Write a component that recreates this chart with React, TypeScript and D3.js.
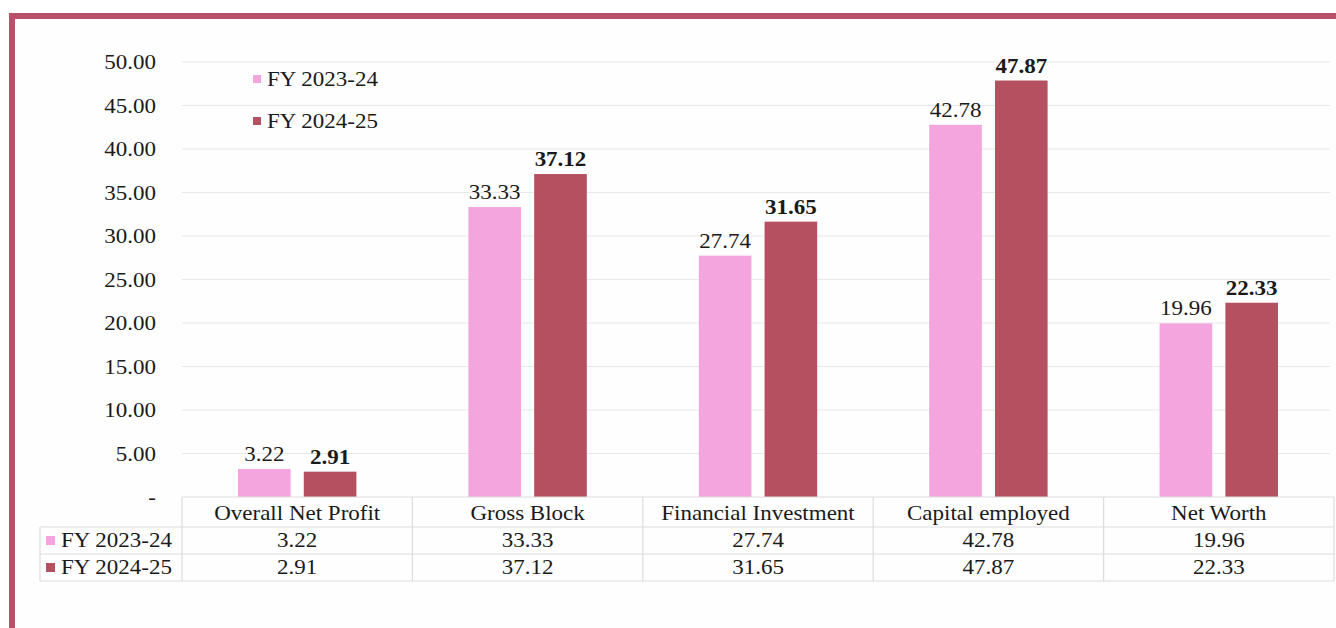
import React from 'react'
import * as d3 from 'd3'

// values (Rs. figures as printed)
const categories = [
  'Overall Net Profit',
  'Gross Block',
  'Financial Investment',
  'Capital employed',
  'Net Worth',
]
const seriesNames = ['FY 2023-24', 'FY 2024-25']
const fy2324 = [3.22, 33.33, 27.74, 42.78, 19.96]
const fy2425 = [2.91, 37.12, 31.65, 47.87, 22.33]
const yTicks = [0, 5, 10, 15, 20, 25, 30, 35, 40, 45, 50]

const colors = ['#F4A5DD', '#B4505F']
const fontFamily = '"Liberation Serif", "Times New Roman", serif'
const gridColor = '#e8e8e8'
const tableColor = '#dcdcdc'

// the reference text is slightly stretched horizontally
const SX = 1.15

const T = ({ x, y, anchor = 'middle', bold = false, size = 20, children }) => (
  <text
    transform={`translate(${x},${y}) scale(${SX},1)`}
    textAnchor={anchor}
    fontFamily={fontFamily}
    fontSize={size}
    fontWeight={bold ? 'bold' : 'normal'}
    fill="#1a1a1a"
  >
    {children}
  </text>
)

const App = () => {
  const width = 1336
  const height = 628
  const left = 182
  const right = 1334
  const y0 = 497
  const y50 = 62

  const series = [fy2324, fy2425]

  const x = d3.scaleBand().domain(categories).range([left, right]).padding(0)
  const inner = d3
    .scaleBand()
    .domain(seriesNames)
    .range([56, x.bandwidth() - 56])
    .paddingInner(0.2)
  const y = d3.scaleLinear().domain([0, 50]).range([y0, y50])
  const fmt = d3.format('.2f')

  const rowTop = [497, 527, 554, 581]

  return (
    <svg
      width={width}
      height={height}
      style={{ position: 'absolute', left: 0, top: 0, background: '#fff' }}
    >
      {/* frame */}
      <rect
        x={12}
        y={16}
        width={1400}
        height={700}
        fill="#fefefe"
        stroke="#B8506A"
        strokeWidth={6}
      />

      {/* gridlines + y labels */}
      {yTicks.map((t) => (
        <g key={t}>
          {t > 0 && (
            <line x1={left} x2={1330} y1={y(t)} y2={y(t)} stroke={gridColor} strokeWidth={1.2} />
          )}
          <T x={156} y={y(t) + 7} anchor="end">
            {t === 0 ? '-' : fmt(t)}
          </T>
        </g>
      ))}

      {/* bars */}
      {categories.map((c, i) => (
        <g key={c} transform={`translate(${x(c)},0)`}>
          {series.map((vals, s) => {
            const bx = inner(seriesNames[s])
            const top = y(vals[i])
            return (
              <g key={s}>
                <rect
                  x={bx}
                  y={top}
                  width={inner.bandwidth()}
                  height={y0 - top}
                  fill={colors[s]}
                />
                <T x={bx + inner.bandwidth() / 2} y={top - 8} bold={s === 1}>
                  {fmt(vals[i])}
                </T>
              </g>
            )
          })}
        </g>
      ))}

      {/* legend inside plot */}
      {seriesNames.map((n, s) => (
        <g key={n}>
          <rect x={253} y={75 + s * 42} width={8} height={8} fill={colors[s]} />
          <T x={267} y={86 + s * 42} anchor="start">
            {n}
          </T>
        </g>
      ))}

      {/* data table */}
      <g stroke={tableColor} strokeWidth={1.2} fill="none">
        <line x1={left} x2={right} y1={rowTop[0]} y2={rowTop[0]} />
        {rowTop.slice(1).map((ry) => (
          <line key={ry} x1={40} x2={right} y1={ry} y2={ry} />
        ))}
        <line x1={40} x2={40} y1={rowTop[1]} y2={rowTop[3]} />
        {categories.map((c) => (
          <line key={c} x1={x(c)} x2={x(c)} y1={rowTop[0]} y2={rowTop[3]} />
        ))}
        <line x1={right} x2={right} y1={rowTop[0]} y2={rowTop[3]} />
      </g>
      {categories.map((c) => (
        <T key={c} x={x(c) + x.bandwidth() / 2} y={520}>
          {c}
        </T>
      ))}
      {series.map((vals, s) => (
        <g key={s}>
          <rect x={46} y={536 + s * 27} width={9} height={9} fill={colors[s]} />
          <T x={61} y={547 + s * 27} anchor="start">
            {seriesNames[s]}
          </T>
          {categories.map((c, i) => (
            <T key={c} x={x(c) + x.bandwidth() / 2} y={547 + s * 27}>
              {fmt(vals[i])}
            </T>
          ))}
        </g>
      ))}
    </svg>
  )
}

export default App
